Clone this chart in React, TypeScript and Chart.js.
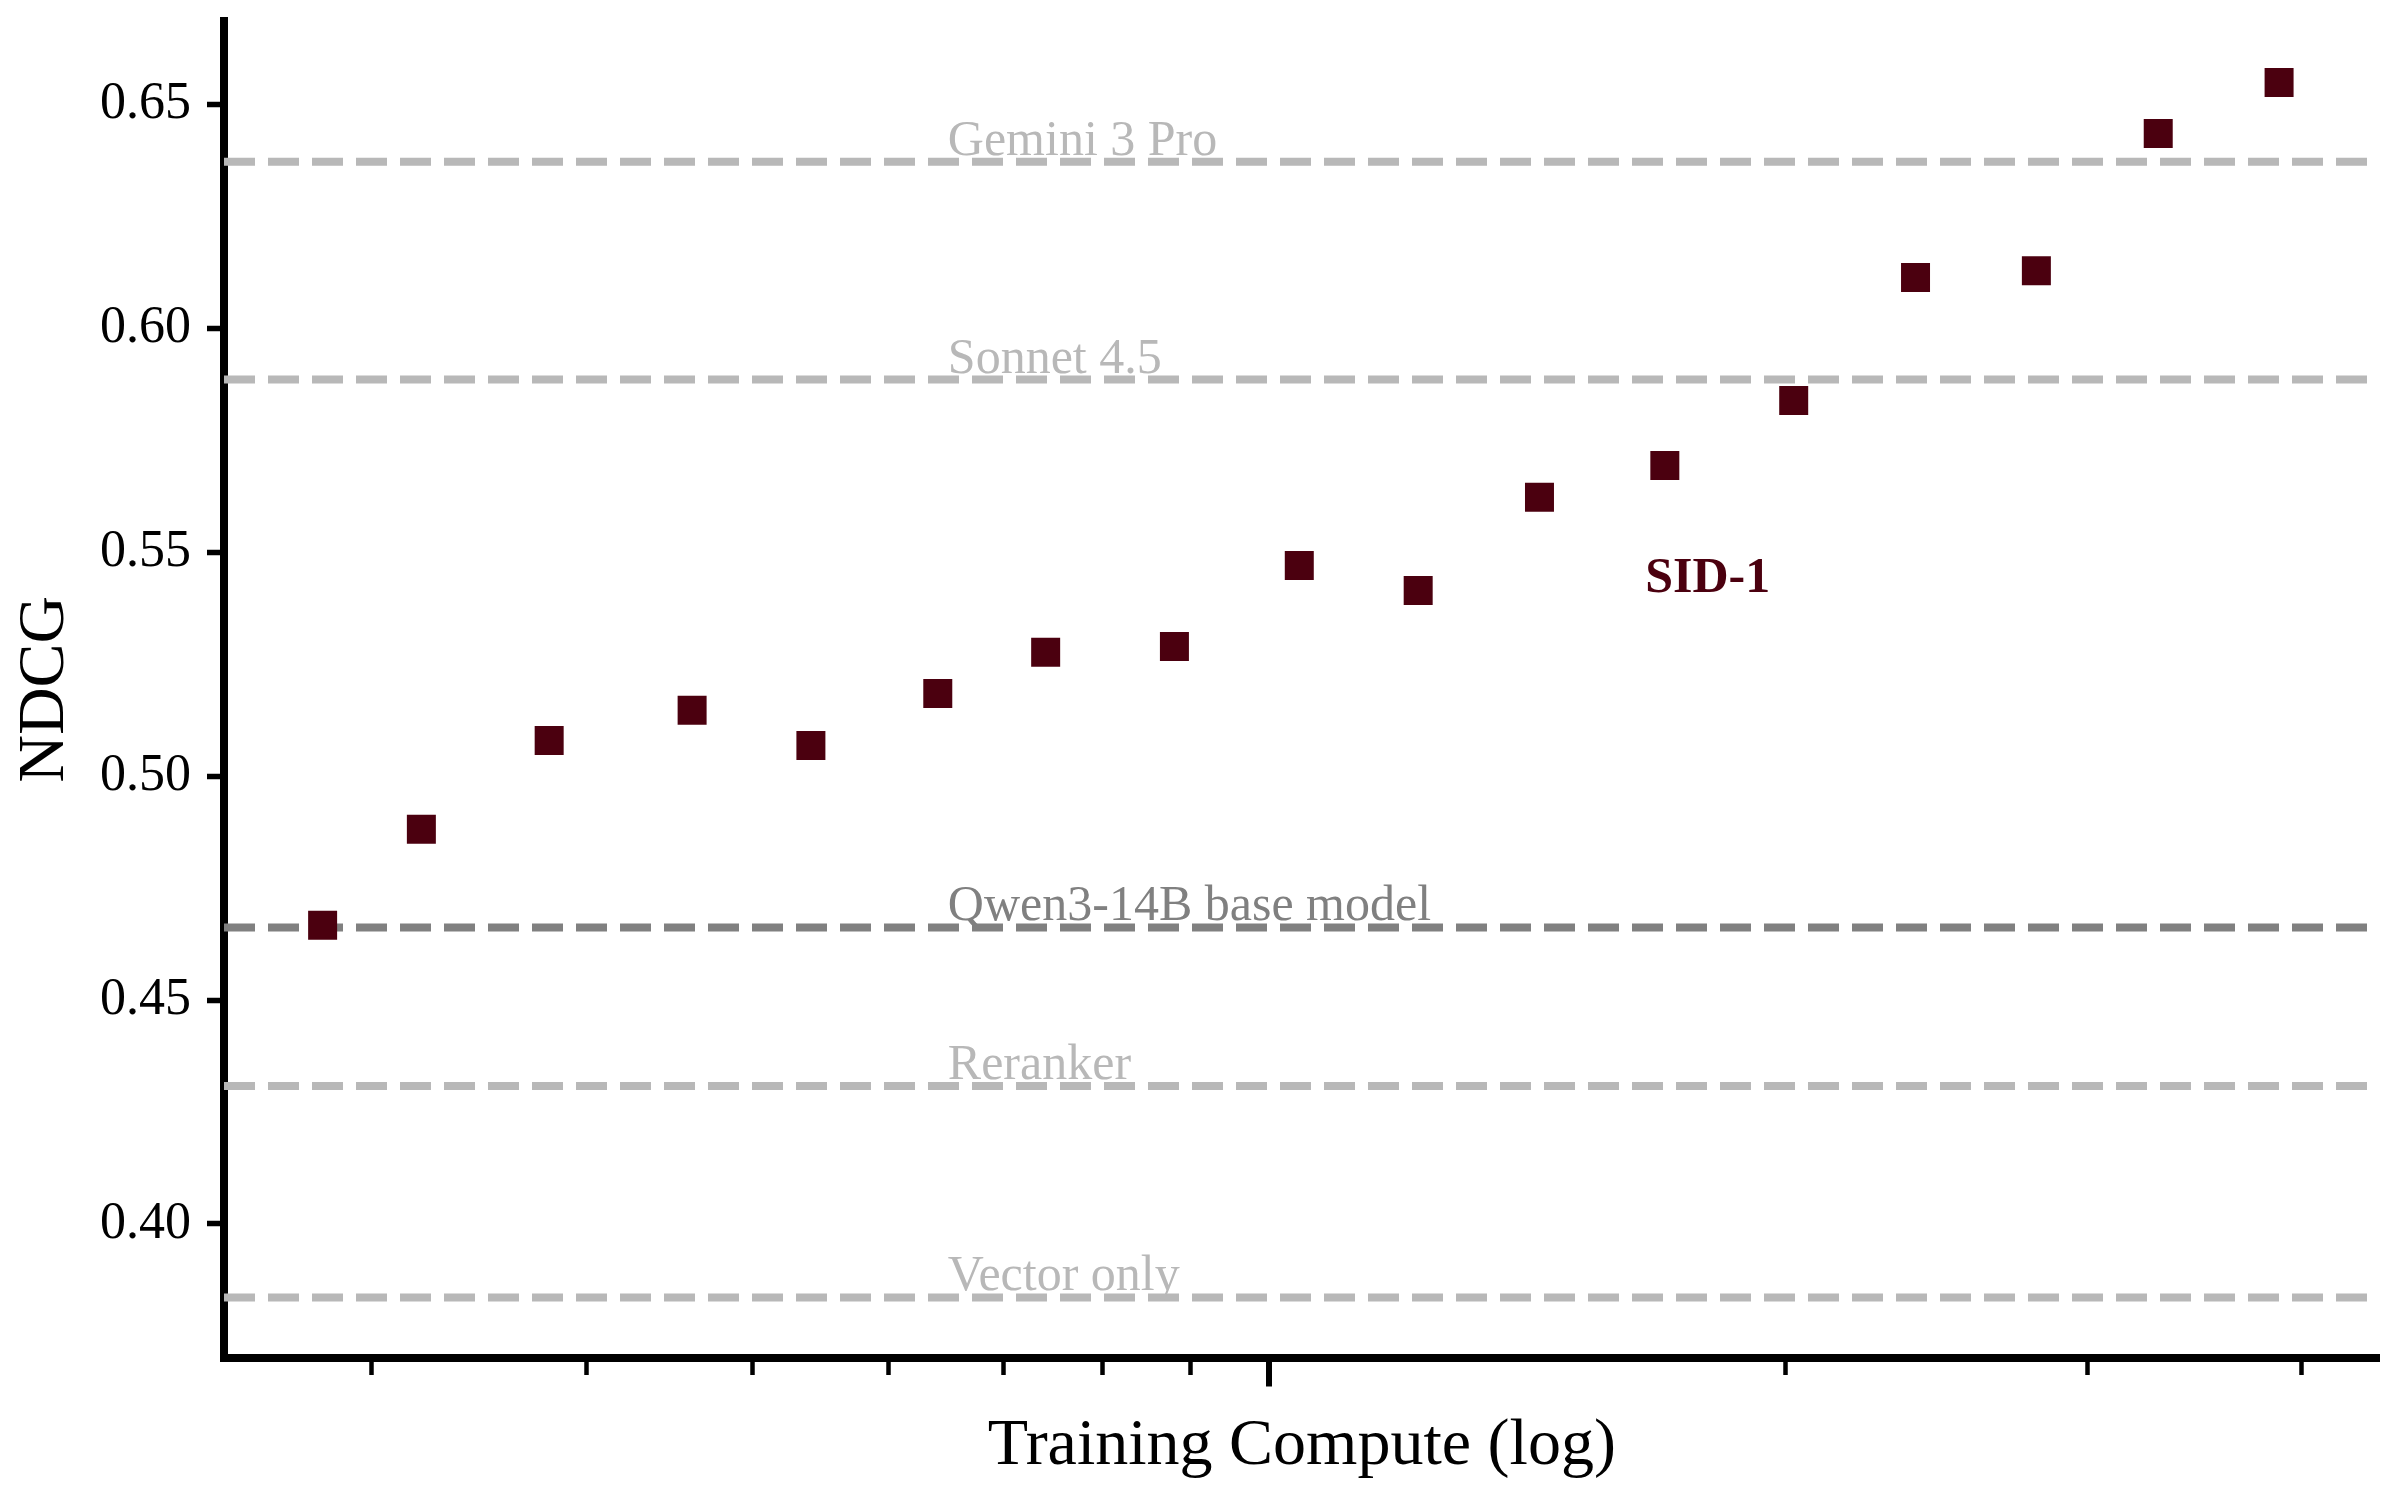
import React, { useEffect, useRef } from "react";
import { Chart, registerables } from "chart.js";

Chart.register(...registerables);

// ---- data ----
const X_VALUES = [2.809, 3.207, 3.807, 4.612, 5.409, 6.413, 7.412, 8.81, 10.417, 12.219, 14.379, 17.013, 20.225, 23.817, 28.01, 32.986, 38.794];
const NDCG_VALUES = [0.4667, 0.4881, 0.5079, 0.5147, 0.5068, 0.5184, 0.5276, 0.5289, 0.547, 0.5414, 0.5622, 0.5693, 0.5838, 0.6113, 0.6128, 0.6434, 0.6548];
const SERIES_NAME = "SID-1";

const BASELINE_NAMES = ["Gemini 3 Pro", "Sonnet 4.5", "Qwen3-14B base model", "Reranker", "Vector only"];
const BASELINE_VALUES = [0.6371, 0.5885, 0.4662, 0.4308, 0.3836];
const BASELINE_COLORS = ["#b8b8b8", "#b8b8b8", "#808080", "#b8b8b8", "#b8b8b8"];

const Y_TICKS = [0.4, 0.45, 0.5, 0.55, 0.6, 0.65];
const X_TICKS = [3, 4, 5, 6, 7, 8, 9, 10, 20, 30, 40];
const X_MAJOR = [10];

const X_MIN = 2.4608;
const X_MAX = 44.39;
const Y_MIN = 0.3702;
const Y_MAX = 0.66853;

const LABEL_X = 6.5;
const SID_LABEL_X = 16.57;
const SID_LABEL_Y = 0.5411;

const X_TITLE = "Training Compute (log)";
const Y_TITLE = "NDCG";

const FONT = "'Liberation Serif', 'Times New Roman', serif";
const MAROON = "#4b000f";

const labelPlugin = {
  id: "baselineLabels",
  afterDatasetsDraw(chart: any) {
    const { ctx, scales } = chart;
    const xs = scales.x;
    const ys = scales.y;
    ctx.save();
    ctx.textAlign = "left";
    ctx.textBaseline = "alphabetic";
    ctx.font = `50px ${FONT}`;
    BASELINE_NAMES.forEach((name, i) => {
      ctx.fillStyle = BASELINE_COLORS[i];
      ctx.fillText(name, xs.getPixelForValue(LABEL_X), ys.getPixelForValue(BASELINE_VALUES[i]) - 7);
    });
    ctx.font = `bold 50px ${FONT}`;
    ctx.fillStyle = MAROON;
    ctx.fillText(SERIES_NAME, xs.getPixelForValue(SID_LABEL_X), ys.getPixelForValue(SID_LABEL_Y));
    ctx.restore();
  },
  afterDraw(chart: any) {
    const { ctx, scales } = chart;
    const xs = scales.x;
    ctx.save();
    ctx.strokeStyle = "#000";
    ctx.lineWidth = 6;
    X_MAJOR.forEach((v) => {
      const px = Math.round(xs.getPixelForValue(v));
      ctx.beginPath();
      ctx.moveTo(px, xs.top + 4);
      ctx.lineTo(px, xs.top + 29);
      ctx.stroke();
    });
    ctx.restore();
  },
};

export default function App() {
  const ref = useRef<HTMLCanvasElement | null>(null);

  useEffect(() => {
    const canvas = ref.current;
    if (!canvas) return;

    const datasets: any[] = [
      {
        type: "scatter",
        label: SERIES_NAME,
        data: X_VALUES.map((x, i) => ({ x, y: NDCG_VALUES[i] })),
        backgroundColor: MAROON,
        borderWidth: 0,
        pointStyle: "rect",
        pointRadius: 20.5,
        pointHoverRadius: 20.5,
        order: 0,
      },
      ...BASELINE_NAMES.map((name, i) => ({
        type: "line",
        label: name,
        data: [
          { x: X_MIN, y: BASELINE_VALUES[i] },
          { x: X_MAX, y: BASELINE_VALUES[i] },
        ],
        borderColor: BASELINE_COLORS[i],
        borderWidth: 8,
        borderDash: [31, 13],
        borderCapStyle: "butt",
        pointRadius: 0,
        fill: false,
        tension: 0,
        order: 1,
      })),
    ];

    const chart = new Chart(canvas, {
      type: "scatter",
      data: { datasets },
      plugins: [labelPlugin],
      options: {
        animation: false,
        responsive: false,
        devicePixelRatio: 1,
        layout: { padding: { left: 0, top: 21, right: 18, bottom: 0 } },
        plugins: {
          legend: { display: false },
          tooltip: { enabled: false },
        },
        scales: {
          x: {
            type: "logarithmic",
            position: "bottom",
            min: X_MIN,
            max: X_MAX,
            afterBuildTicks: (scale: any) => {
              scale.ticks = X_TICKS.map((v) => ({ value: v, major: X_MAJOR.includes(v) }));
            },
            afterFit: (scale: any) => {
              scale.height = 142.5;
              scale.paddingLeft = 0;
              scale.paddingRight = 0;
            },
            ticks: { display: false },
            grid: {
              display: true,
              drawOnChartArea: false,
              drawTicks: true,
              tickLength: 17.5,
              lineWidth: 1,
              tickWidth: 4.5,
              tickColor: "#000",
            },
            border: { display: true, width: 8, color: "#000" },
            title: {
              display: true,
              text: X_TITLE,
              color: "#000",
              font: { family: FONT, size: 66 },
              padding: { top: 0, bottom: 14 },
            },
          },
          y: {
            type: "linear",
            position: "left",
            min: Y_MIN,
            max: Y_MAX,
            afterBuildTicks: (scale: any) => {
              scale.ticks = Y_TICKS.map((v) => ({ value: v }));
            },
            afterFit: (scale: any) => {
              scale.width = 224;
              scale.paddingTop = 0;
              scale.paddingBottom = 0;
            },
            ticks: {
              color: "#000",
              font: { family: FONT, size: 52 },
              padding: 16,
              callback: (v: any) => Number(v).toFixed(2),
            },
            grid: {
              display: true,
              drawOnChartArea: false,
              drawTicks: true,
              tickLength: 17,
              lineWidth: 1,
              tickWidth: 5.5,
              tickColor: "#000",
            },
            border: { display: true, width: 8, color: "#000" },
            title: {
              display: true,
              text: Y_TITLE,
              color: "#000",
              font: { family: FONT, size: 66 },
              padding: { top: 6, bottom: 0 },
            },
          },
        },
      } as any,
    });

    return () => chart.destroy();
  }, []);

  return (
    <div style={{ position: "absolute", left: 0, top: 0, width: 2400, height: 1500, background: "#fff" }}>
      <canvas ref={ref} width={2400} height={1500} style={{ display: "block", width: 2400, height: 1500 }} />
    </div>
  );
}
